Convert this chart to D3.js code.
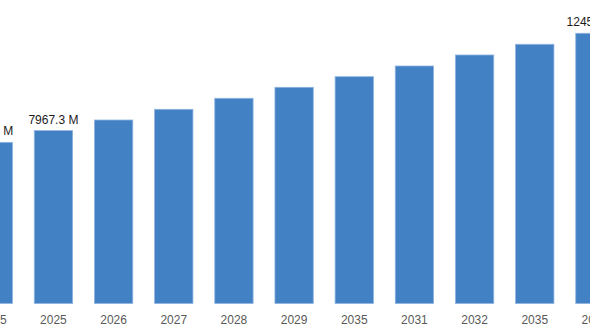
<!DOCTYPE html>
<html>
<head>
<meta charset="utf-8">
<script src="https://cdn.jsdelivr.net/npm/d3@7"></script>
<style>
  html, body { margin: 0; padding: 0; background: #fff; }
  svg { display: block; }
  text { font-family: "Liberation Sans", Arial, Helvetica, sans-serif; }
</style>
</head>
<body>
<svg id="chart" width="590" height="334"></svg>
<script>
// Market size by year (USD million)
const years = ["2035", "2025", "2026", "2027", "2028", "2029", "2035", "2031", "2032", "2035", "2034"];
const values = [7426, 7967.3, 8456, 8949, 9456, 9963, 10452, 10945, 11452, 11945, 12452.1];
// bars that carry a value label
const labelled = [0, 1, 10];

const baseY = 303.5;

const svg = d3.select("#chart");

const idx = years.map((_, i) => i);
const x = d3.scaleBand()
  .domain(idx)
  .range([-36.8, 625.0])
  .paddingInner(0.363)
  .paddingOuter(0.1815);

const y = d3.scaleLinear()
  .domain([0, 13986])
  .range([baseY, 0]);

// bars
svg.append("g")
  .selectAll("rect")
  .data(values)
  .join("rect")
  .attr("x", (d, i) => x(i))
  .attr("y", d => y(d))
  .attr("width", x.bandwidth())
  .attr("height", d => y(0) - y(d))
  .attr("fill", "#4181c4")
  .attr("stroke", "#8fb3df")
  .attr("stroke-width", 0.8);

// value labels
svg.append("g")
  .selectAll("text")
  .data(labelled)
  .join("text")
  .attr("x", i => x(i) + x.bandwidth() / 2)
  .attr("y", i => y(values[i]) - 7)
  .attr("text-anchor", "middle")
  .attr("font-size", 12)
  .attr("fill", "#1a1a1a")
  .text(i => values[i] + " M");

// category axis
const axis = d3.axisBottom(x)
  .tickFormat(i => years[i])
  .tickSize(0)
  .tickPadding(12);

const gx = svg.append("g")
  .attr("transform", `translate(0,${baseY})`)
  .call(axis);
gx.select(".domain").remove();
gx.selectAll("text")
  .attr("font-size", 12)
  .attr("fill", "#595959")
  .style("font-family", '"Liberation Sans", Arial, Helvetica, sans-serif');
</script>
</body>
</html>
